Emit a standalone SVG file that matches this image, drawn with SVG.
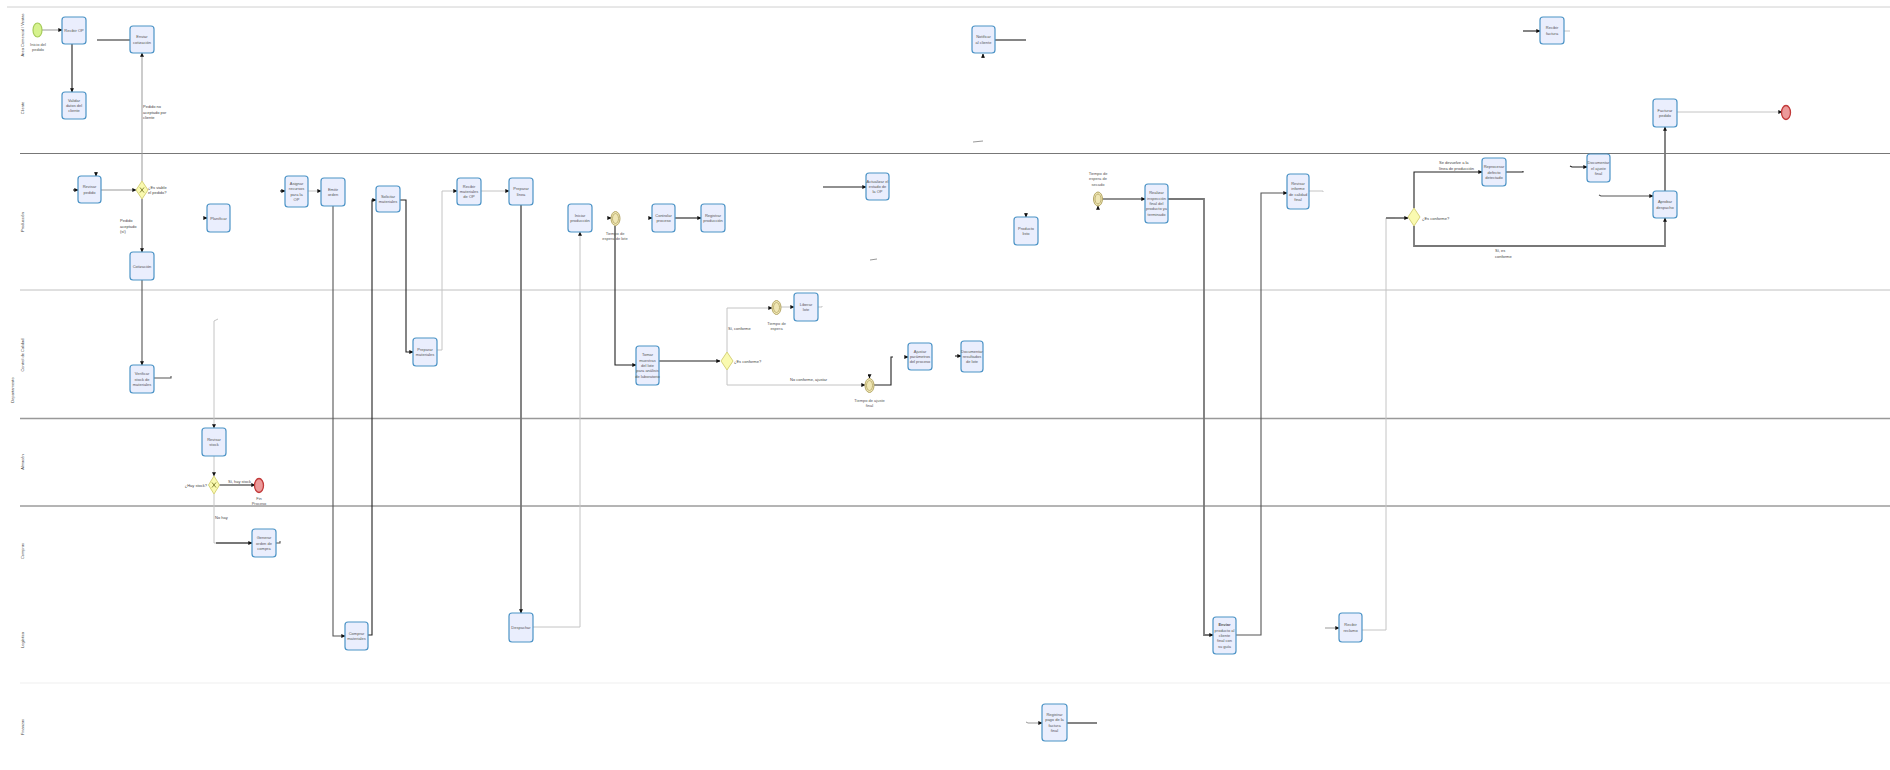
<svg xmlns="http://www.w3.org/2000/svg" width="1890" height="770" viewBox="0 0 1890 770">
<defs>
<style>
.task{fill:#eaeefd;stroke:#4b93c6;stroke-width:1.2}
.t{font-family:"Liberation Sans",Arial,sans-serif;font-size:4px;fill:#555;text-anchor:middle}
.lbl{font-family:"Liberation Sans",Arial,sans-serif;font-size:4px;fill:#444}
.ln{font-family:"Liberation Sans",Arial,sans-serif;font-size:4px;fill:#444;text-anchor:middle}
.gw{fill:#fafab0;stroke:#d6d27a;stroke-width:1}
.ev{fill:#efe6b4;stroke:#b5a766;stroke-width:1}
.end{fill:#ec9a9a;stroke:#c23a3a;stroke-width:1.3}
.start{fill:#d6f28e;stroke:#a6cc5a;stroke-width:1.2}
.k{fill:none;stroke:#222;stroke-width:1.1}
.d{fill:none;stroke:#555;stroke-width:1.1}
.g{fill:none;stroke:#999;stroke-width:1}
.lg{fill:none;stroke:#c4c4c4;stroke-width:1}
.tg{fill:none;stroke:#777;stroke-width:1.8}
</style>
<marker id="a" viewBox="0 0 6 6" refX="5.5" refY="3" markerWidth="4" markerHeight="4" orient="auto" markerUnits="userSpaceOnUse"><path d="M0,0 L6,3 L0,6 z" fill="#111"/></marker>
</defs>
<rect width="1890" height="770" fill="#fff"/>
<g id="lanes">
<line x1="7" y1="7" x2="1890" y2="7" stroke="#d0d0d0" stroke-width="1"/>
<line x1="20" y1="153.5" x2="1890" y2="153.5" stroke="#777" stroke-width="1"/>
<line x1="20" y1="290" x2="1890" y2="290" stroke="#c0c0c0" stroke-width="1"/>
<line x1="20" y1="418.5" x2="1890" y2="418.5" stroke="#999" stroke-width="1.4"/>
<line x1="20" y1="506" x2="1890" y2="506" stroke="#6a6a6a" stroke-width="1"/>
<line x1="20" y1="683" x2="1890" y2="683" stroke="#efefef" stroke-width="1"/>
<text class="ln" transform="translate(24,35) rotate(-90)">Área Comercial / Ventas</text>
<text class="ln" transform="translate(24,108) rotate(-90)">Cliente</text>
<text class="ln" transform="translate(24,222) rotate(-90)">Producción</text>
<text class="ln" transform="translate(24,355) rotate(-90)">Control de Calidad</text>
<text class="ln" transform="translate(14,390) rotate(-90)">Departamento</text>
<text class="ln" transform="translate(24,462) rotate(-90)">Almacén</text>
<text class="ln" transform="translate(24,551) rotate(-90)">Compras</text>
<text class="ln" transform="translate(24,640) rotate(-90)">Logística</text>
<text class="ln" transform="translate(24,727) rotate(-90)">Finanzas</text>
</g>
<g id="connectors">
<path class="g" d="M42,30 H62" marker-end="url(#a)"/>
<path class="k" d="M72,44 V92" marker-end="url(#a)"/>
<path class="k" d="M97,40 H130"/>
<path class="g" d="M142,181 V53" marker-end="url(#a)"/>
<path class="g" d="M101,190 H136" marker-end="url(#a)"/>
<path class="d" d="M142,199 V252" marker-end="url(#a)"/>
<path class="d" d="M142,280 V365" marker-end="url(#a)"/>
<path class="d" d="M154,378 H171 V376"/>
<path class="k" d="M73,190 H78" marker-end="url(#a)"/>
<path class="k" d="M96,172 V176" marker-end="url(#a)"/>
<path class="k" d="M204,218 H207" marker-end="url(#a)"/>
<path class="lg" d="M218,319 L214,321 V428" marker-end="url(#a)"/>
<path class="lg" d="M214,456 V476" marker-end="url(#a)"/>
<path class="k" d="M219,485 H255" marker-end="url(#a)"/>
<path class="lg" d="M214,494 V543 H230"/>
<path class="tg" d="M216,543 H252" marker-end="url(#a)"/>
<path class="d" d="M276,543 H280 V541"/>
<path class="k" d="M280,191 H285" marker-end="url(#a)"/>
<path class="lg" d="M308,191 H321" marker-end="url(#a)"/>
<path class="d" d="M333,206 V636 H345" marker-end="url(#a)"/>
<path class="k" d="M368,635 H372 V200 H376" marker-end="url(#a)"/>
<path class="k" d="M400,200 H406 V352 H413" marker-end="url(#a)"/>
<path class="lg" d="M437,350 H442 V191 H457" marker-end="url(#a)"/>
<path class="lg" d="M481,191 H509" marker-end="url(#a)"/>
<path class="tg" d="M521,205 V613" marker-end="url(#a)"/>
<path class="lg" d="M533,627 H580 V232" marker-end="url(#a)"/>
<path class="k" d="M608,218 H611" marker-end="url(#a)"/>
<path class="k" d="M615,226 V365 H636" marker-end="url(#a)"/>
<path class="k" d="M649,218 H652" marker-end="url(#a)"/>
<path class="tg" d="M675,218 H701" marker-end="url(#a)"/>
<path class="k" d="M659,361 H720" marker-end="url(#a)"/>
<path class="lg" d="M727,352 V308 H772" marker-end="url(#a)"/>
<path class="lg" d="M781,307 H794" marker-end="url(#a)"/>
<path class="lg" d="M818,307 H822 V306"/>
<path class="lg" d="M727,370 V385 H865" marker-end="url(#a)"/>
<path class="k" d="M874,385 H891 V357 H893"/>
<path class="k" d="M905,357 H908" marker-end="url(#a)"/>
<path class="k" d="M955,356 H961" marker-end="url(#a)"/>
<path class="k" d="M823,187 H866" marker-end="url(#a)"/>
<path class="k" d="M995,40 H1026"/>
<path class="k" d="M1026,213 V217" marker-end="url(#a)"/>
<path class="k" d="M1102,199 H1145" marker-end="url(#a)"/>
<path class="tg" d="M1168,199 H1204 V635 H1213" marker-end="url(#a)"/>
<path class="d" d="M1236,635 H1261 V193 H1287" marker-end="url(#a)"/>
<path class="lg" d="M1309,191 H1323 V192"/>
<path class="lg" d="M1362,630 H1386 V218 H1395"/>
<path class="tg" d="M1386,218 H1408" marker-end="url(#a)"/>
<path class="g" d="M1325,628 H1339" marker-end="url(#a)"/>
<path class="k" d="M1414,208 V172 H1482" marker-end="url(#a)"/>
<path class="k" d="M1506,172 H1523 V171"/>
<path class="k" d="M1570,166 L1572,167 H1587" marker-end="url(#a)"/>
<path class="d" d="M1599,195 L1601,196 H1653" marker-end="url(#a)"/>
<path class="tg" d="M1414,226 V246 H1665 V218" marker-end="url(#a)"/>
<path class="tg" d="M1665,191 V127" marker-end="url(#a)"/>
<path class="lg" d="M1677,112 H1782" marker-end="url(#a)"/>
<path class="tg" d="M1523,31 H1540" marker-end="url(#a)"/>
<path class="lg" d="M1564,31 H1570"/>
<path class="g" d="M1026,722 L1028,723 H1042" marker-end="url(#a)"/>
<path class="tg" d="M1067,723 H1097"/>
<path class="g" d="M973,142 L983,141"/>
<path class="g" d="M870,260 L877,259"/>
<path class="k" d="M983,58 V54" marker-end="url(#a)"/>
<path class="k" d="M1098,209 V206" marker-end="url(#a)"/>
<path class="k" d="M869.5,375 V378" marker-end="url(#a)"/>
<text class="lbl" x="143" y="108">Pedido no</text>
<text class="lbl" x="143" y="113.5">aceptado por</text>
<text class="lbl" x="143" y="119">cliente</text>
<text class="lbl" x="120" y="222">Pedido</text>
<text class="lbl" x="120" y="227.5">aceptado</text>
<text class="lbl" x="120" y="233">(sí)</text>
<text class="lbl" x="228" y="483">Sí, hay stock</text>
<text class="lbl" x="215" y="519">No hay</text>
<text class="lbl" x="728" y="330">Sí, conforme</text>
<text class="lbl" x="790" y="381">No conforme, ajustar</text>
<text class="lbl" x="1439" y="164">Se devuelve a la</text>
<text class="lbl" x="1439" y="170">línea de producción</text>
<text class="lbl" x="1495" y="252">Sí, es</text>
<text class="lbl" x="1495" y="258">conforme</text>
</g>
<g id="start"><ellipse class="start" cx="37.5" cy="30" rx="4.5" ry="7"/><text class="t" x="38" y="46"><tspan x="38">Inicio del</tspan><tspan x="38" dy="5.3">pedido</tspan></text></g>
<g id="T1"><rect class="task" x="62" y="17" width="24" height="27" rx="3"/><text class="t" x="74" y="32">Recibir OP</text></g>
<g id="T2"><rect class="task" x="62" y="92" width="24" height="27" rx="3"/><text class="t" x="74" y="101.7"><tspan x="74">Validar</tspan><tspan x="74" dy="5.3">datos del</tspan><tspan x="74" dy="5.3">cliente</tspan></text></g>
<g id="T3"><rect class="task" x="130" y="26" width="24" height="27" rx="3"/><text class="t" x="142" y="38.3"><tspan x="142">Enviar</tspan><tspan x="142" dy="5.3">cotización</tspan></text></g>
<g id="T4"><rect class="task" x="78" y="176" width="23" height="27" rx="3"/><text class="t" x="89.5" y="188.3"><tspan x="89.5">Revisar</tspan><tspan x="89.5" dy="5.3">pedido</tspan></text></g>
<g id="G1"><polygon class="gw" points="142,181 148,190 142,199 136,190"/><path d="M140,187.5 L144,192.5 M144,187.5 L140,192.5" stroke="#8a8a3a" stroke-width="1"/><text class="lbl" x="148" y="188.5"><tspan x="148">¿Es viable</tspan><tspan x="148" dy="5.3">el pedido?</tspan></text></g>
<g id="T5"><rect class="task" x="207" y="204" width="23" height="28" rx="3"/><text class="t" x="218.5" y="219.5">Planificar</text></g>
<g id="T6"><rect class="task" x="285" y="176" width="23" height="31" rx="3"/><text class="t" x="296.5" y="185"><tspan x="296.5">Asignar</tspan><tspan x="296.5" dy="5.3">recursos</tspan><tspan x="296.5" dy="5.3">para la</tspan><tspan x="296.5" dy="5.3">OP</tspan></text></g>
<g id="T7"><rect class="task" x="321" y="178" width="24" height="28" rx="3"/><text class="t" x="333" y="190.8"><tspan x="333">Emitir</tspan><tspan x="333" dy="5.3">orden</tspan></text></g>
<g id="T8"><rect class="task" x="376" y="186" width="24" height="26" rx="3"/><text class="t" x="388" y="197.8"><tspan x="388">Solicitar</tspan><tspan x="388" dy="5.3">materiales</tspan></text></g>
<g id="T9"><rect class="task" x="457" y="178" width="24" height="27" rx="3"/><text class="t" x="469" y="187.7"><tspan x="469">Recibir</tspan><tspan x="469" dy="5.3">materiales</tspan><tspan x="469" dy="5.3">de OP</tspan></text></g>
<g id="T10"><rect class="task" x="509" y="178" width="24" height="27" rx="3"/><text class="t" x="521" y="190.3"><tspan x="521">Preparar</tspan><tspan x="521" dy="5.3">línea</tspan></text></g>
<g id="T11"><rect class="task" x="568" y="204" width="24" height="28" rx="3"/><text class="t" x="580" y="216.8"><tspan x="580">Iniciar</tspan><tspan x="580" dy="5.3">producción</tspan></text></g>
<g id="E1"><ellipse class="ev" cx="615.5" cy="218.5" rx="4.5" ry="7"/><ellipse cx="615.5" cy="218.5" rx="3" ry="5" fill="none" stroke="#b5a766" stroke-width="0.8"/><text class="t" x="615" y="235"><tspan x="615">Tiempo de</tspan><tspan x="615" dy="5.3">espera de lote</tspan></text></g>
<g id="T12"><rect class="task" x="652" y="204" width="23" height="28" rx="3"/><text class="t" x="663.5" y="216.8"><tspan x="663.5">Controlar</tspan><tspan x="663.5" dy="5.3">proceso</tspan></text></g>
<g id="T13"><rect class="task" x="701" y="204" width="24" height="28" rx="3"/><text class="t" x="713" y="216.8"><tspan x="713">Registrar</tspan><tspan x="713" dy="5.3">producción</tspan></text></g>
<g id="T14"><rect class="task" x="866" y="173" width="23" height="27" rx="3"/><text class="t" x="877.5" y="182.7"><tspan x="877.5">Actualizar el</tspan><tspan x="877.5" dy="5.3">estado de</tspan><tspan x="877.5" dy="5.3">la OP</tspan></text></g>
<g id="T15"><rect class="task" x="972" y="26" width="23" height="27" rx="3"/><text class="t" x="983.5" y="38.3"><tspan x="983.5">Notificar</tspan><tspan x="983.5" dy="5.3">al cliente</tspan></text></g>
<g id="T16"><rect class="task" x="1014" y="217" width="24" height="28" rx="3"/><text class="t" x="1026" y="229.8"><tspan x="1026">Producto</tspan><tspan x="1026" dy="5.3">listo</tspan></text></g>
<g id="E2"><ellipse class="ev" cx="1098" cy="199" rx="4.5" ry="7"/><ellipse cx="1098" cy="199" rx="3" ry="5" fill="none" stroke="#b5a766" stroke-width="0.8"/><text class="t" x="1098" y="175"><tspan x="1098">Tiempo de</tspan><tspan x="1098" dy="5.3">espera de</tspan><tspan x="1098" dy="5.3">secado</tspan></text></g>
<g id="T17"><rect class="task" x="1145" y="184" width="23" height="39" rx="3"/><text class="t" x="1156.5" y="194.4"><tspan x="1156.5">Realizar</tspan><tspan x="1156.5" dy="5.3">inspección</tspan><tspan x="1156.5" dy="5.3">final del</tspan><tspan x="1156.5" dy="5.3">producto ya</tspan><tspan x="1156.5" dy="5.3">terminado</tspan></text></g>
<g id="T18"><rect class="task" x="1287" y="174" width="22" height="35" rx="3"/><text class="t" x="1298" y="185"><tspan x="1298">Revisar</tspan><tspan x="1298" dy="5.3">informe</tspan><tspan x="1298" dy="5.3">de calidad</tspan><tspan x="1298" dy="5.3">final</tspan></text></g>
<g id="G2"><polygon class="gw" points="1414,208 1420,217 1414,226 1408,217"/><text class="lbl" x="1422" y="220">¿Es conforme?</text></g>
<g id="T19"><rect class="task" x="1540" y="17" width="24" height="27" rx="3"/><text class="t" x="1552" y="29.3"><tspan x="1552">Recibir</tspan><tspan x="1552" dy="5.3">factura</tspan></text></g>
<g id="T20"><rect class="task" x="1653" y="99" width="24" height="28" rx="3"/><text class="t" x="1665" y="111.8"><tspan x="1665">Facturar</tspan><tspan x="1665" dy="5.3">pedido</tspan></text></g>
<g id="End2"><ellipse class="end" cx="1786" cy="112.5" rx="4.5" ry="7"/></g>
<g id="T21"><rect class="task" x="1482" y="158" width="24" height="28" rx="3"/><text class="t" x="1494" y="168.2"><tspan x="1494">Reprocesar</tspan><tspan x="1494" dy="5.3">defecto</tspan><tspan x="1494" dy="5.3">detectado</tspan></text></g>
<g id="T22"><rect class="task" x="1587" y="154" width="23" height="28" rx="3"/><text class="t" x="1598.5" y="164.2"><tspan x="1598.5">Documentar</tspan><tspan x="1598.5" dy="5.3">el ajuste</tspan><tspan x="1598.5" dy="5.3">final</tspan></text></g>
<g id="T23"><rect class="task" x="1653" y="191" width="24" height="27" rx="3"/><text class="t" x="1665" y="203.3"><tspan x="1665">Aprobar</tspan><tspan x="1665" dy="5.3">despacho</tspan></text></g>
<g id="T24"><rect class="task" x="130" y="252" width="24" height="28" rx="3"/><text class="t" x="142" y="267.5">Cotización</text></g>
<g id="T25"><rect class="task" x="130" y="365" width="24" height="28" rx="3"/><text class="t" x="142" y="375.2"><tspan x="142">Verificar</tspan><tspan x="142" dy="5.3">stock de</tspan><tspan x="142" dy="5.3">materiales</tspan></text></g>
<g id="T26"><rect class="task" x="202" y="428" width="24" height="28" rx="3"/><text class="t" x="214" y="440.8"><tspan x="214">Revisar</tspan><tspan x="214" dy="5.3">stock</tspan></text></g>
<g id="G3"><polygon class="gw" points="214,476 219.5,485 214,494 208.5,485"/><path d="M212,482.5 L216,487.5 M216,482.5 L212,487.5" stroke="#8a8a3a" stroke-width="1"/><text class="lbl" x="207" y="486.5" text-anchor="end">¿Hay stock?</text></g>
<g id="End1"><ellipse class="end" cx="259" cy="485.5" rx="4.5" ry="7"/><text class="t" x="259" y="500"><tspan x="259">Fin</tspan><tspan x="259" dy="5.3">Proceso</tspan></text></g>
<g id="T27"><rect class="task" x="413" y="338" width="24" height="28" rx="3"/><text class="t" x="425" y="350.8"><tspan x="425">Preparar</tspan><tspan x="425" dy="5.3">materiales</tspan></text></g>
<g id="T28"><rect class="task" x="636" y="346" width="23" height="39" rx="3"/><text class="t" x="647.5" y="356.4"><tspan x="647.5">Tomar</tspan><tspan x="647.5" dy="5.3">muestras</tspan><tspan x="647.5" dy="5.3">del lote</tspan><tspan x="647.5" dy="5.3">para análisis</tspan><tspan x="647.5" dy="5.3">de laboratorio</tspan></text></g>
<g id="G4"><polygon class="gw" points="727,352 733,361 727,370 721,361"/><text class="lbl" x="734" y="362.5">¿Es conforme?</text></g>
<g id="E3"><ellipse class="ev" cx="776.5" cy="307.5" rx="4.5" ry="7"/><ellipse cx="776.5" cy="307.5" rx="3" ry="5" fill="none" stroke="#b5a766" stroke-width="0.8"/><text class="t" x="776.5" y="324.5"><tspan x="776.5">Tiempo de</tspan><tspan x="776.5" dy="5.3">espera</tspan></text></g>
<g id="T29"><rect class="task" x="794" y="293" width="24" height="28" rx="3"/><text class="t" x="806" y="305.8"><tspan x="806">Liberar</tspan><tspan x="806" dy="5.3">lote</tspan></text></g>
<g id="E4"><ellipse class="ev" cx="869.5" cy="385.5" rx="4.5" ry="7"/><ellipse cx="869.5" cy="385.5" rx="3" ry="5" fill="none" stroke="#b5a766" stroke-width="0.8"/><text class="t" x="869.5" y="402"><tspan x="869.5">Tiempo de ajuste</tspan><tspan x="869.5" dy="5.3">final</tspan></text></g>
<g id="T30"><rect class="task" x="908" y="343" width="24" height="27" rx="3"/><text class="t" x="920" y="352.7"><tspan x="920">Ajustar</tspan><tspan x="920" dy="5.3">parámetros</tspan><tspan x="920" dy="5.3">del proceso</tspan></text></g>
<g id="T31"><rect class="task" x="961" y="341" width="22" height="31" rx="3"/><text class="t" x="972" y="352.7"><tspan x="972">Documentar</tspan><tspan x="972" dy="5.3">resultados</tspan><tspan x="972" dy="5.3">de lote</tspan></text></g>
<g id="T32"><rect class="task" x="252" y="529" width="24" height="28" rx="3"/><text class="t" x="264" y="539.2"><tspan x="264">Generar</tspan><tspan x="264" dy="5.3">orden de</tspan><tspan x="264" dy="5.3">compra</tspan></text></g>
<g id="T33"><rect class="task" x="345" y="622" width="23" height="28" rx="3"/><text class="t" x="356.5" y="634.8"><tspan x="356.5">Comprar</tspan><tspan x="356.5" dy="5.3">materiales</tspan></text></g>
<g id="T34"><rect class="task" x="509" y="613" width="24" height="29" rx="3"/><text class="t" x="521" y="629">Despachar</text></g>
<g id="T35"><rect class="task" x="1213" y="617" width="23" height="37" rx="3"/><text class="t" x="1224.5" y="626.4"><tspan x="1224.5" font-weight="bold">Enviar</tspan><tspan x="1224.5" dy="5.3">producto al</tspan><tspan x="1224.5" dy="5.3">cliente</tspan><tspan x="1224.5" dy="5.3">final con</tspan><tspan x="1224.5" dy="5.3">su guía</tspan></text></g>
<g id="T36"><rect class="task" x="1339" y="613" width="23" height="29" rx="3"/><text class="t" x="1350.5" y="626.3"><tspan x="1350.5">Recibir</tspan><tspan x="1350.5" dy="5.3">reclamo</tspan></text></g>
<g id="T37"><rect class="task" x="1042" y="704" width="25" height="37" rx="3"/><text class="t" x="1054.5" y="716"><tspan x="1054.5">Registrar</tspan><tspan x="1054.5" dy="5.3">pago de la</tspan><tspan x="1054.5" dy="5.3">factura</tspan><tspan x="1054.5" dy="5.3">final</tspan></text></g>
</svg>
